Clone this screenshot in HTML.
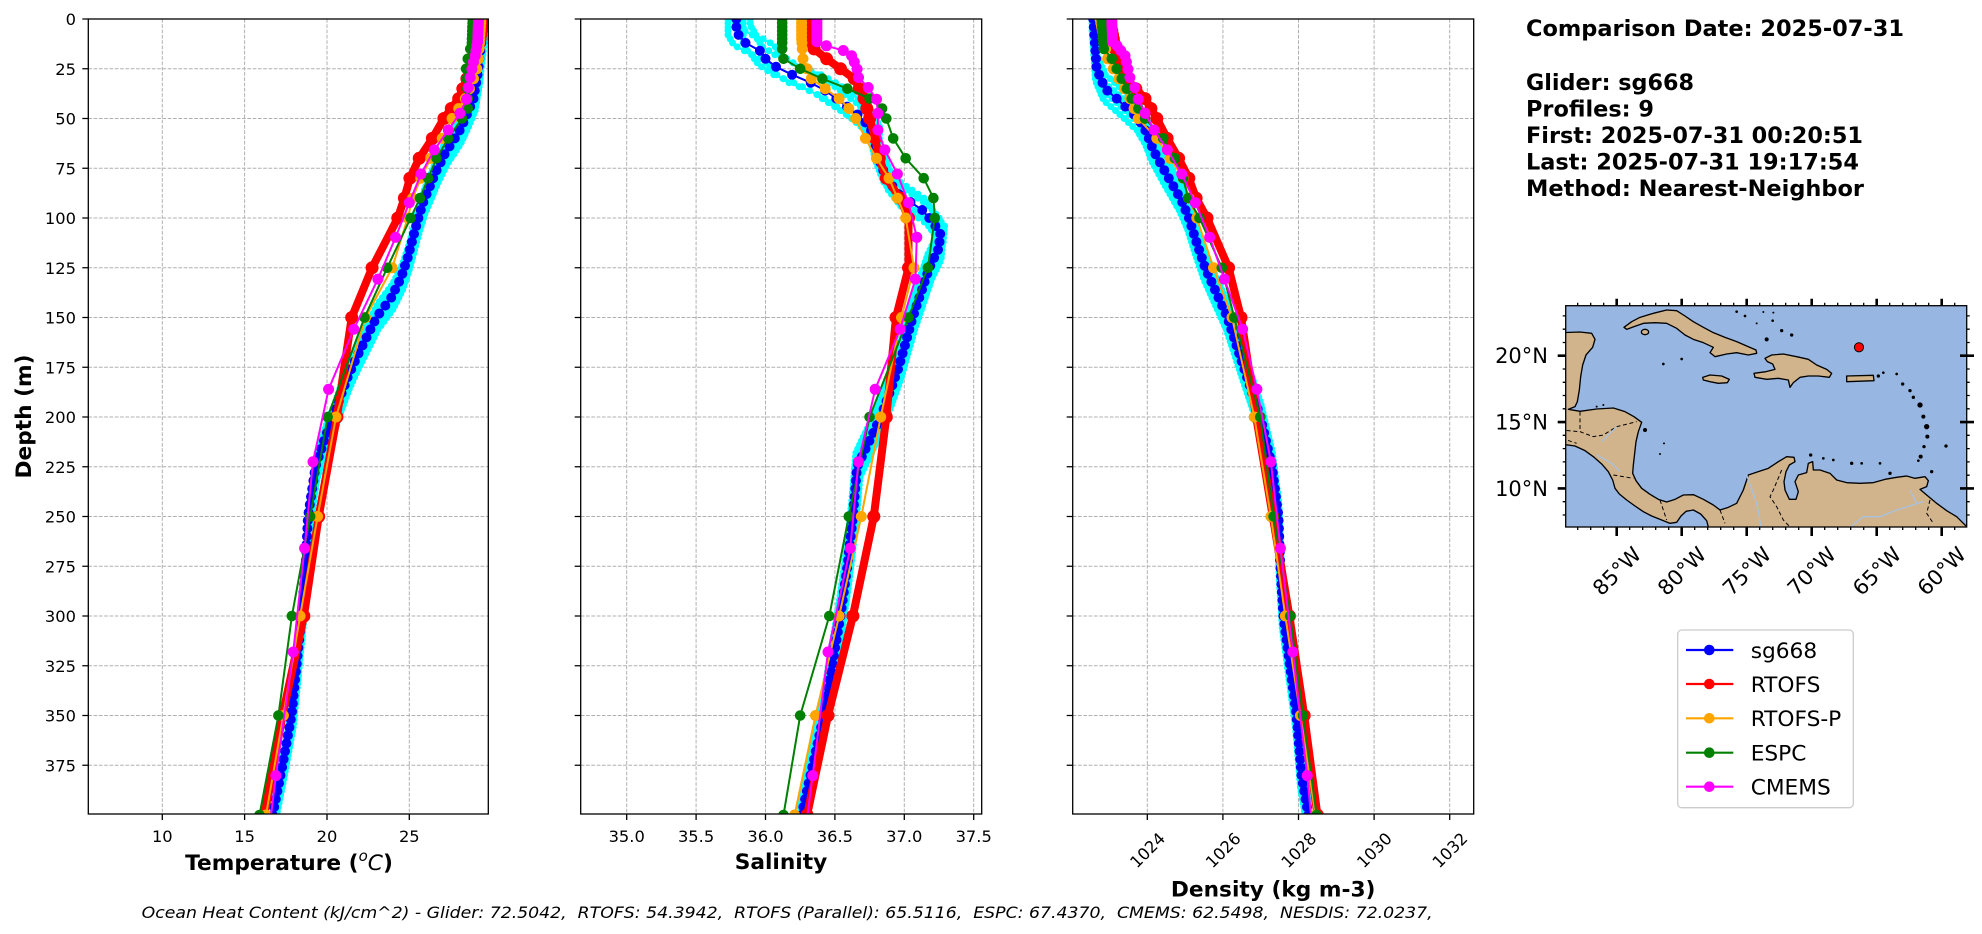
<!DOCTYPE html>
<html><head><meta charset="utf-8">
<style>
html,body{margin:0;padding:0;background:#fff;}
svg{display:block;font-family:"DejaVu Sans","Liberation Sans",sans-serif;}
.tk{font-size:16.3px;fill:#000;}
.lb{font-size:21.7px;font-weight:bold;fill:#000;}
.info{font-size:22px;font-weight:bold;fill:#000;}
.lg{font-size:21.7px;fill:#000;}
.mp{font-size:21px;fill:#000;}
</style></head><body>
<svg id="fig" width="1982" height="934" viewBox="0 0 1982 934" xmlns="http://www.w3.org/2000/svg">
<defs>
<clipPath id="c1"><rect x="88.3" y="19" width="400" height="795"/></clipPath>
<clipPath id="c2"><rect x="580.7" y="19" width="401" height="795"/></clipPath>
<clipPath id="c3"><rect x="1072.7" y="19" width="401" height="795"/></clipPath>
<clipPath id="cm"><rect x="1565.7" y="305.7" width="401" height="221.3"/></clipPath>
</defs>
<rect width="1982" height="934" fill="#fff"/>
<g id="plots"></g>

<!-- Panel 1 y tick labels -->
<g class="tk" text-anchor="end">
<text x="76" y="25">0</text>
<text x="76" y="74.75">25</text>
<text x="76" y="124.5">50</text>
<text x="76" y="174.25">75</text>
<text x="76" y="224">100</text>
<text x="76" y="273.75">125</text>
<text x="76" y="323.5">150</text>
<text x="76" y="373.25">175</text>
<text x="76" y="423">200</text>
<text x="76" y="472.75">225</text>
<text x="76" y="522.5">250</text>
<text x="76" y="572.25">275</text>
<text x="76" y="622">300</text>
<text x="76" y="671.75">325</text>
<text x="76" y="721.5">350</text>
<text x="76" y="771.25">375</text>
</g>
<!-- x tick labels -->
<g class="tk" text-anchor="middle">
<text x="162.3" y="842">10</text>
<text x="244.6" y="842">15</text>
<text x="327" y="842">20</text>
<text x="409.3" y="842">25</text>
<text x="626.7" y="842">35.0</text>
<text x="696.1" y="842">35.5</text>
<text x="765.5" y="842">36.0</text>
<text x="834.9" y="842">36.5</text>
<text x="904.3" y="842">37.0</text>
<text x="973.7" y="842">37.5</text>
<text transform="translate(1147.3,850) rotate(-45)" x="0" y="6">1024</text>
<text transform="translate(1222.9,850) rotate(-45)" x="0" y="6">1026</text>
<text transform="translate(1298.5,850) rotate(-45)" x="0" y="6">1028</text>
<text transform="translate(1374.1,850) rotate(-45)" x="0" y="6">1030</text>
<text transform="translate(1449.7,850) rotate(-45)" x="0" y="6">1032</text>
</g>
<!-- axis labels -->
<text class="lb" transform="translate(23,416.5) rotate(-90)" x="0" y="7.8" text-anchor="middle">Depth (m)</text>
<text class="lb" x="289" y="870" text-anchor="middle">Temperature (<tspan font-style="italic" font-weight="normal" font-size="15" dy="-9">o</tspan><tspan font-style="italic" font-weight="normal" dy="9">C</tspan>)</text>
<text class="lb" x="781" y="869" text-anchor="middle">Salinity</text>
<text class="lb" x="1273.2" y="896.5" text-anchor="middle">Density (kg m-3)</text>
<text x="141.6" y="918" font-size="16.3" font-style="italic" style="white-space:pre" textLength="1291" lengthAdjust="spacingAndGlyphs">Ocean Heat Content (kJ/cm^2) - Glider: 72.5042,  RTOFS: 54.3942,  RTOFS (Parallel): 65.5116,  ESPC: 67.4370,  CMEMS: 62.5498,  NESDIS: 72.0237,</text>

<!-- info block -->
<g class="info">
<text x="1526" y="36" textLength="378" lengthAdjust="spacingAndGlyphs">Comparison Date: 2025-07-31</text>
<text x="1526" y="90" textLength="168" lengthAdjust="spacingAndGlyphs">Glider: sg668</text>
<text x="1526" y="116.5" textLength="128" lengthAdjust="spacingAndGlyphs">Profiles: 9</text>
<text x="1526" y="143" textLength="337" lengthAdjust="spacingAndGlyphs">First: 2025-07-31 00:20:51</text>
<text x="1526" y="169.6" textLength="333" lengthAdjust="spacingAndGlyphs">Last: 2025-07-31 19:17:54</text>
<text x="1526" y="196.2" textLength="338" lengthAdjust="spacingAndGlyphs">Method: Nearest-Neighbor</text>
</g>

<!-- MAP -->
<rect x="1565.7" y="305.7" width="401" height="221.3" fill="#97b6e1"/>
<g clip-path="url(#cm)">
<g transform="translate(1480,290) scale(0.333333)">
<g fill="#d2b48c" stroke="#000" stroke-width="4" stroke-linejoin="round">
<path d="M 240,128 L 300,126 L 335,130 L 345,148 L 338,172 L 318,195 L 308,225 L 302,260 L 298,300 L 292,335 L 285,350 L 265,358 L 300,364 L 350,357 L 400,354 L 435,365 L 462,380 L 485,397 L 475,425 L 468,455 L 464,490 L 460,525 L 458,550 L 468,572 L 485,595 L 510,613 L 535,628 L 560,636 L 585,628 L 610,615 L 640,614 L 670,628 L 700,645 L 720,660 L 745,652 L 770,640 L 790,600 L 805,555 L 835,545 L 865,535 L 895,515 L 920,500 L 942,502 L 945,515 L 928,525 L 918,545 L 912,575 L 915,600 L 928,628 L 948,628 L 955,605 L 945,575 L 955,555 L 980,548 L 985,520 L 998,515 L 1000,540 L 1020,540 L 1050,550 L 1070,570 L 1100,578 L 1140,580 L 1180,578 L 1215,568 L 1250,562 L 1280,558 L 1305,565 L 1335,560 L 1345,572 L 1340,590 L 1320,598 L 1340,615 L 1370,640 L 1400,662 L 1430,680 L 1450,700 L 1480,730 L 690,730 L 680,692 L 662,672 L 640,660 L 618,664 L 603,678 L 590,697 L 570,700 L 545,690 L 515,678 L 490,665 L 465,648 L 440,630 L 418,612 L 405,595 L 398,570 L 385,545 L 365,522 L 340,500 L 315,482 L 285,468 L 240,462 Z"/>
<path d="M 432,112 L 455,95 L 480,82 L 520,70 L 560,60 L 590,62 L 615,78 L 640,95 L 670,112 L 700,128 L 735,142 L 770,155 L 800,168 L 828,180 L 830,190 L 805,195 L 770,188 L 740,192 L 705,200 L 690,188 L 700,172 L 670,158 L 640,148 L 615,135 L 590,115 L 560,100 L 525,98 L 490,100 L 462,110 L 440,118 Z"/>
<ellipse cx="495" cy="126" rx="11" ry="8"/>
<path d="M 668,262 L 690,255 L 725,258 L 748,268 L 742,278 L 715,280 L 690,275 L 670,270 Z"/>
<path d="M 855,205 L 875,195 L 910,192 L 950,200 L 985,208 L 1010,225 L 1040,238 L 1055,250 L 1048,262 L 1015,258 L 985,258 L 960,262 L 940,278 L 930,292 L 925,270 L 895,265 L 860,268 L 825,262 L 822,250 L 858,245 L 885,238 L 878,222 L 862,215 Z"/>
<path d="M 1100,258 L 1180,256 L 1182,272 L 1100,275 Z"/>
</g>
<g fill="#000">
<circle cx="1195" cy="258" r="5"/><circle cx="1210" cy="248" r="4"/><circle cx="1250" cy="252" r="4"/><circle cx="1268" cy="282" r="5"/><circle cx="1290" cy="302" r="5"/><circle cx="1300" cy="322" r="5"/><circle cx="1320" cy="345" r="8"/><circle cx="1330" cy="380" r="6"/><circle cx="1340" cy="410" r="8"/><circle cx="1342" cy="440" r="6"/><circle cx="1332" cy="470" r="5"/><circle cx="1322" cy="500" r="6"/><circle cx="1315" cy="512" r="4"/><circle cx="1355" cy="545" r="5"/><circle cx="1398" cy="468" r="5"/>
<circle cx="550" cy="222" r="4"/><circle cx="605" cy="207" r="4"/><circle cx="770" cy="65" r="4"/><circle cx="795" cy="78" r="4"/><circle cx="850" cy="66" r="3"/><circle cx="878" cy="92" r="4"/><circle cx="905" cy="122" r="5"/><circle cx="935" cy="135" r="5"/><circle cx="860" cy="148" r="6"/><circle cx="830" cy="100" r="3"/><circle cx="880" cy="68" r="3"/>
<circle cx="992" cy="495" r="5"/><circle cx="1030" cy="505" r="4"/><circle cx="1060" cy="510" r="4"/><circle cx="1115" cy="520" r="5"/><circle cx="1145" cy="520" r="4"/><circle cx="1200" cy="520" r="4"/><circle cx="1230" cy="550" r="5"/><circle cx="540" cy="492" r="3"/><circle cx="552" cy="460" r="3"/><circle cx="495" cy="420" r="6"/><circle cx="350" cy="350" r="3"/><circle cx="370" cy="345" r="3"/>
</g>
<g fill="none" stroke="#000" stroke-width="3" stroke-dasharray="12,8">
<path d="M 240,420 L 300,425 L 340,440 L 370,435 L 410,410 L 470,395"/>
<path d="M 245,445 L 290,460"/>
<path d="M 300,365 L 300,420"/>
<path d="M 400,555 L 460,565"/>
<path d="M 540,630 L 560,690"/>
<path d="M 720,660 L 735,700"/>
<path d="M 905,540 L 880,600 L 870,620 L 890,650 L 910,690 L 930,711"/>
<path d="M 1350,630 L 1340,670 L 1360,700"/>
</g>
<g fill="none" stroke="#a9c1dd" stroke-width="4">
<path d="M 800,555 L 830,640 L 845,720"/>
<path d="M 1100,720 L 1150,680 L 1200,680 L 1250,660 L 1330,635"/>
<path d="M 1290,600 L 1310,640"/>
<path d="M 350,495 L 395,520 L 420,545"/>
<path d="M 410,410 L 380,440 L 365,455"/>
</g>
</g>
<circle cx="1859" cy="347.3" r="4.6" fill="#ff0000" stroke="#000" stroke-width="1"/>
</g>
<rect x="1565.7" y="305.7" width="401" height="221.3" fill="none" stroke="#000" stroke-width="1.3"/>
<g id="mapticks"></g>
<g class="mp" text-anchor="end">
<text x="1548" y="363.2">20°N</text>
<text x="1548" y="429.6">15°N</text>
<text x="1548" y="496">10°N</text>
</g>
<g class="mp" text-anchor="middle">
<text transform="translate(1616.7,571) rotate(-45)" x="0" y="7.5">85°W</text>
<text transform="translate(1681.7,571) rotate(-45)" x="0" y="7.5">80°W</text>
<text transform="translate(1746.7,571) rotate(-45)" x="0" y="7.5">75°W</text>
<text transform="translate(1811.5,571) rotate(-45)" x="0" y="7.5">70°W</text>
<text transform="translate(1876.7,571) rotate(-45)" x="0" y="7.5">65°W</text>
<text transform="translate(1941.5,571) rotate(-45)" x="0" y="7.5">60°W</text>
</g>

<!-- Legend -->
<rect x="1677.7" y="630" width="175.6" height="177.7" rx="4" ry="4" fill="#fff" stroke="#cccccc" stroke-width="1.3"/>
<g stroke-width="2.2">
<line x1="1686" y1="650" x2="1733.3" y2="650" stroke="#0000ff"/><circle cx="1709.3" cy="650" r="5.3" fill="#0000ff" stroke="none"/>
<line x1="1686" y1="684" x2="1733.3" y2="684" stroke="#ff0000"/><circle cx="1709.3" cy="684" r="5.3" fill="#ff0000" stroke="none"/>
<line x1="1686" y1="718.3" x2="1733.3" y2="718.3" stroke="#ffa500"/><circle cx="1709.3" cy="718.3" r="5.3" fill="#ffa500" stroke="none"/>
<line x1="1686" y1="752.7" x2="1733.3" y2="752.7" stroke="#008000"/><circle cx="1709.3" cy="752.7" r="5.3" fill="#008000" stroke="none"/>
<line x1="1686" y1="786.7" x2="1733.3" y2="786.7" stroke="#ff00ff"/><circle cx="1709.3" cy="786.7" r="5.3" fill="#ff00ff" stroke="none"/>
</g>
<g class="lg">
<text x="1750.7" y="657.8">sg668</text>
<text x="1750.7" y="691.8">RTOFS</text>
<text x="1750.7" y="726.1">RTOFS-P</text>
<text x="1750.7" y="760.5">ESPC</text>
<text x="1750.7" y="794.5">CMEMS</text>
</g>
</svg>
<script>
(function(){
const NS='http://www.w3.org/2000/svg';
const root=document.getElementById('plots');
function el(t,a,p){const e=document.createElementNS(NS,t);for(const k in a)e.setAttribute(k,a[k]);(p||root).appendChild(e);return e;}
const Y0=19,Y1=814;
const yd=d=>Y0+d*1.99;
const P=[
 {x0:88.3,x1:488.3,fx:v=>162.3+(v-10)*16.467,xt:[10,15,20,25],cl:'c1'},
 {x0:580.7,x1:981.7,fx:v=>626.7+(v-35)*138.8,xt:[35,35.5,36,36.5,37,37.5],cl:'c2'},
 {x0:1072.7,x1:1473.7,fx:v=>1147.3+(v-1024)*37.8,xt:[1024,1026,1028,1030,1032],cl:'c3'}
];
const yt=[];for(let d=0;d<=375;d+=25)yt.push(d);
function interp(kp,d){if(d<=kp[0][0])return kp[0][1];for(let i=1;i<kp.length;i++){if(d<=kp[i][0]){const a=kp[i-1],b=kp[i];return a[1]+(b[1]-a[1])*(d-a[0])/(b[0]-a[0]);}}return kp[kp.length-1][1];}
const RT=[0,2,4,6,8,10,12,15,20,25,30,35,40,45,50,60,70,80,90,100,125,150,200,250,300,350,400];
const CM=[0.49,1.54,2.65,3.82,5.08,6.44,7.93,9.57,11.4,13.47,15.81,18.5,21.6,25.2,29.4,34.4,40.3,47.4,55.8,65.8,77.9,92.3,109.7,130.7,155.9,186.1,222.5,266.0,318.1,380.2,453.9];
const GL=[];for(let d=0;d<=404;d+=4)GL.push(d);
const CY=[];for(let d=0;d<=404;d+=2)CY.push(d);
const DATA=[
{ // Temperature
blue:[[0,29.5],[10,29.4],[20,29.25],[25,29.2],[30,29.1],[40,28.9],[50,28.4],[57,28.0],[67,27.2],[77,26.6],[92,25.85],[100,25.55],[106,25.35],[120,24.9],[130,24.5],[140,23.9],[150,23.0],[160,22.4],[170,21.8],[180,21.25],[190,20.8],[200,20.4],[210,19.9],[225,19.3],[250,18.85],[275,18.7],[300,18.45],[325,18.15],[350,17.85],[375,17.3],[400,16.7]],
red:[[0,29.45],[10,29.3],[20,29.0],[25,28.8],[30,28.5],[40,28.0],[50,27.1],[60,26.4],[75,25.2],[90,24.7],[100,24.3],[125,22.74],[150,21.5],[175,21.0],[200,20.6],[250,19.5],[300,18.6],[350,17.3],[400,16.2]],
orange:[[0,29.35],[20,29.2],[25,29.1],[30,28.9],[40,28.4],[50,27.6],[60,27.0],[70,26.3],[80,25.7],[90,25.2],[100,24.9],[125,23.96],[150,22.34],[200,20.55],[250,19.43],[300,18.37],[350,17.35],[400,16.3]],
green:[[0,28.85],[12,28.8],[20,28.55],[25,28.45],[30,28.5],[40,28.55],[45,28.55],[50,28.2],[60,27.37],[70,26.66],[80,26.15],[90,25.65],[100,25.08],[125,23.66],[150,22.28],[200,20.04],[250,18.98],[300,17.87],[350,17.05],[400,15.9]],
mag:[[0,29.2],[11.4,29.15],[13.5,29.1],[15.8,29.05],[18.5,29.0],[21.6,28.9],[25.2,28.8],[29.4,28.7],[34.4,28.58],[40.3,28.48],[47.4,28.07],[55.8,27.37],[65.8,26.52],[77.9,25.71],[92.3,25.0],[109.7,24.17],[130.7,23.09],[155.9,21.63],[186.1,20.1],[222.5,19.15],[266,18.64],[318.1,17.95],[380.2,16.9],[453.9,15.8]],
cy:[0.1,0.05,0.1,0.1], sc:d=>1},
{ // Salinity
blue:[[0,35.79],[6,35.79],[11,35.83],[16,35.96],[21,36.01],[26,36.12],[31,36.30],[36,36.43],[42,36.55],[50,36.7],[57,36.77],[69,36.81],[80,36.87],[88,36.96],[97,37.15],[102,37.2],[107,37.26],[115,37.25],[125,37.18],[150,37.06],[175,36.96],[200,36.83],[225,36.66],[250,36.63],[275,36.59],[300,36.54],[350,36.42],[400,36.26]],
red:[[0,36.32],[10,36.32],[15,36.35],[20,36.44],[25,36.54],[30,36.64],[40,36.71],[50,36.75],[60,36.79],[70,36.82],[80,36.87],[90,36.97],[100,37.03],[125,37.03],[150,36.94],[200,36.87],[250,36.78],[300,36.63],[350,36.45],[400,36.3]],
orange:[[0,36.26],[10,36.26],[20,36.27],[30,36.33],[35,36.43],[40,36.53],[45,36.60],[50,36.65],[60,36.72],[70,36.80],[80,36.89],[90,36.95],[100,37.01],[125,37.07],[150,36.98],[200,36.83],[250,36.69],[300,36.53],[350,36.36],[400,36.21]],
green:[[0,36.12],[15,36.12],[20,36.13],[25,36.25],[30,36.41],[35,36.59],[40,36.75],[45,36.84],[50,36.87],[60,36.92],[70,37.01],[80,37.14],[90,37.21],[100,37.22],[125,37.17],[150,37.03],[200,36.75],[250,36.60],[300,36.46],[350,36.25],[400,36.13]],
mag:[[0,36.37],[11.4,36.37],[13.5,36.44],[15.8,36.56],[18.5,36.62],[21.6,36.64],[25.2,36.66],[29.4,36.67],[34.4,36.74],[40.3,36.80],[47.4,36.81],[55.8,36.81],[65.8,36.86],[77.9,36.95],[92.3,37.03],[109.7,37.09],[130.7,37.08],[155.9,36.97],[186.1,36.79],[222.5,36.67],[266,36.61],[318.1,36.45],[380.2,36.34],[453.9,36.2]],
cy:[0.05,-0.06,0.1,-0.03], sc:d=>d<40?1:(d<60?1-(d-40)/20*0.7:0.3)},
{ // Density
blue:[[0,1022.57],[25,1022.66],[35,1022.88],[40,1023.19],[50,1023.76],[57,1023.98],[66,1024.16],[75,1024.42],[84,1024.69],[91,1024.9],[100,1025.1],[111,1025.28],[125,1025.53],[150,1026.12],[175,1026.55],[200,1026.99],[225,1027.3],[250,1027.47],[275,1027.52],[300,1027.6],[350,1027.95],[380,1028.08],[400,1028.26]],
red:[[0,1023.0],[20,1023.2],[30,1023.45],[40,1023.94],[50,1024.25],[66,1024.69],[75,1025.0],[91,1025.31],[107,1025.79],[125,1026.15],[150,1026.48],[200,1026.88],[250,1027.32],[300,1027.76],[350,1028.15],[400,1028.5]],
orange:[[0,1022.75],[20,1022.95],[25,1023.10],[40,1023.54],[50,1023.76],[60,1024.25],[70,1024.6],[80,1024.95],[90,1025.1],[100,1025.31],[125,1025.75],[150,1026.24],[200,1026.83],[250,1027.27],[300,1027.65],[350,1028.05],[400,1028.45]],
green:[[0,1022.79],[15,1022.85],[20,1023.06],[25,1023.19],[40,1023.59],[50,1023.94],[60,1024.42],[70,1024.73],[80,1024.95],[90,1025.08],[100,1025.38],[125,1025.97],[150,1026.30],[200,1026.99],[250,1027.34],[300,1027.78],[350,1028.12],[400,1028.48]],
mag:[[0,1023.06],[11.4,1023.08],[13.5,1023.2],[18.5,1023.41],[29.4,1023.54],[34.4,1023.67],[40.3,1023.76],[47.4,1023.94],[55.8,1024.18],[65.8,1024.53],[77.9,1024.91],[92.3,1025.27],[109.7,1025.65],[130.7,1026.04],[155.9,1026.52],[186.1,1026.9],[222.5,1027.27],[266,1027.52],[318.1,1027.85],[380.2,1028.23],[453.9,1028.6]],
cy:[-0.03,0,-0.02,0.01], sc:d=>1}
];
P.forEach((p,i)=>{
  let gd='';
  p.xt.forEach(v=>{const x=p.fx(v).toFixed(1);gd+='M'+x+' '+Y0+'V'+Y1;});
  yt.forEach(d=>{if(d>0)gd+='M'+p.x0+' '+yd(d).toFixed(2)+'H'+p.x1;});
  el('path',{d:gd,stroke:'#b0b0b0','stroke-width':1,'stroke-dasharray':'3.7,1.6',fill:'none'});
  const g=el('g',{'clip-path':'url(#'+p.cl+')'});
  const D=DATA[i];
  function series(depths,fn,color,lw,r){
    const pts=depths.map(d=>[p.fx(fn(d)),yd(d)]);
    el('polyline',{points:pts.map(q=>q[0].toFixed(1)+','+q[1].toFixed(1)).join(' '),fill:'none',stroke:color,'stroke-width':lw,'stroke-linejoin':'round'},g);
    let md='';pts.forEach(q=>{md+='M'+q[0].toFixed(1)+' '+q[1].toFixed(1)+'h0.01';});
    el('path',{d:md,stroke:color,'stroke-width':2*r,'stroke-linecap':'round',fill:'none'},g);
  }
  [[-6,0],[-2,1],[3,2],[7,3]].forEach(s=>series(CY,d=>interp(D.blue,d+s[0])+D.cy[s[1]]*D.sc(d),'#00ffff',2,3.5));
  series(GL,d=>interp(D.blue,d),'#0000ff',2,5);
  series(RT,d=>interp(D.red,d),'#ff0000',8,6.5);
  series(RT,d=>interp(D.orange,d),'#ffa500',2,5.5);
  series(RT,d=>interp(D.green,d),'#008000',2,5.3);
  series(CM,d=>interp(D.mag,d),'#ff00ff',2,5.5);
  let td='';
  p.xt.forEach(v=>{td+='M'+p.fx(v).toFixed(1)+' '+Y1+'v6';});
  yt.forEach(d=>{td+='M'+p.x0+' '+yd(d).toFixed(2)+'h-6';});
  el('path',{d:td,stroke:'#000','stroke-width':1.3,fill:'none'});
  el('rect',{x:p.x0,y:Y0,width:(p.x1-p.x0),height:Y1-Y0,fill:'none',stroke:'#000','stroke-width':1.3});
});
// map ticks
const mt=document.getElementById('mapticks');
const lx=lon=>1565.7+(lon+88.92)*13.0;
const ly=lat=>305.7+(23.77-lat)*13.27;
let maj='',mino='';
for(let lon=-88;lon<=-59;lon++){const x=lx(lon).toFixed(1);
  if(lon%5===0){maj+='M'+x+' 305.7v-7M'+x+' 527v9';}
  else{mino+='M'+x+' 305.7v-3M'+x+' 527v3';}}
for(let lat=8;lat<=23;lat++){const y=ly(lat).toFixed(1);
  if(lat%5===0){maj+='M1565.7 '+y+'h-8M1960 '+y+'h14';}
  else{mino+='M1565.7 '+y+'h-3M1966.7 '+y+'h3';}}
el('path',{d:maj,stroke:'#000','stroke-width':2.6,fill:'none'},mt);
el('path',{d:mino,stroke:'#000','stroke-width':1.3,fill:'none'},mt);
})();
</script>
</body></html>
